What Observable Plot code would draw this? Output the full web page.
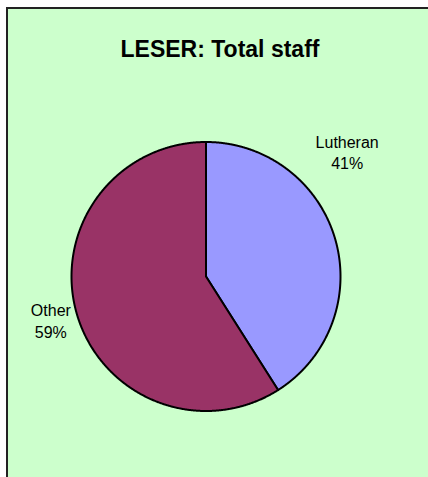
<!DOCTYPE html>
<html>
<head>
<meta charset="utf-8">
<script src="https://cdn.jsdelivr.net/npm/d3@7"></script>
<script src="https://cdn.jsdelivr.net/npm/@observablehq/plot@0.6"></script>
<style>
  html, body { margin: 0; padding: 0; background: #ffffff; }
  #wrap { position: relative; width: 428px; height: 477px; overflow: hidden; font-family: "Liberation Sans", Arial, sans-serif; }
  #panel { position: absolute; left: 6px; top: 7px; right: 0; bottom: 0; background: #CCFFCC; border-left: 2px solid #222; border-top: 2px solid #222; }
  #title { position: absolute; left: 8px; width: 424px; top: 37.5px; text-align: center; font-size: 23px; line-height: 23px; font-weight: bold; color: #000; white-space: nowrap; }
  #chart { position: absolute; left: 0; top: 0; }
</style>
</head>
<body>
<div id="wrap">
  <div id="panel"></div>
  <div id="chart"></div>
  <div id="title">LESER: Total staff</div>
</div>
<script>
const categories = ["Lutheran", "Other"];
const shares = [41, 59];
const colors = ["#9999FF", "#993366"];

const W = 428, H = 477;
const cx = 205.5, cy = 276, R = 134.5;

// Build slice polygons in unit-circle data space (clockwise from 12 o'clock)
const total = d3.sum(shares);
const slicePts = [];
const mids = [];
let acc = 0;
categories.forEach((name, i) => {
  const a0 = acc / total * 2 * Math.PI;
  acc += shares[i];
  const a1 = acc / total * 2 * Math.PI;
  const n = Math.max(2, Math.ceil((a1 - a0) / (Math.PI / 720)));
  slicePts.push({name, x: 0, y: 0});
  for (let k = 0; k <= n; k++) {
    const a = a0 + (a1 - a0) * k / n;
    slicePts.push({name, x: Math.sin(a), y: Math.cos(a)});
  }
  const am = (a0 + a1) / 2;
  mids.push({name, x: Math.sin(am), y: Math.cos(am), label: `${name}\n${shares[i]}%`});
});

const labelStyle = {text: "label", fontSize: 16, lineHeight: 1.33, lineAnchor: "bottom", textAnchor: "middle", fill: "#000", fontFamily: "Liberation Sans, Arial, sans-serif"};

const plot = Plot.plot({
  width: W, height: H,
  margin: 0,
  style: {background: "none", overflow: "visible"},
  x: {domain: [-cx / R, (W - cx) / R], range: [0, W], axis: null},
  y: {domain: [-(H - cy) / R, cy / R], range: [H, 0], axis: null},
  color: {domain: categories, range: colors},
  marks: [
    Plot.line(slicePts, {x: "x", y: "y", z: "name", fill: "name", stroke: "#000", strokeWidth: 2, strokeLinejoin: "round", curve: "linear-closed"}),
    Plot.text(mids.filter(d => d.name === "Lutheran"), {x: "x", y: "y", dx: 12, dy: -69.5, ...labelStyle}),
    Plot.text(mids.filter(d => d.name === "Other"), {x: "x", y: "y", dx: -26, dy: 23.5, ...labelStyle})
  ]
});
document.getElementById("chart").appendChild(plot);
</script>
</body>
</html>
